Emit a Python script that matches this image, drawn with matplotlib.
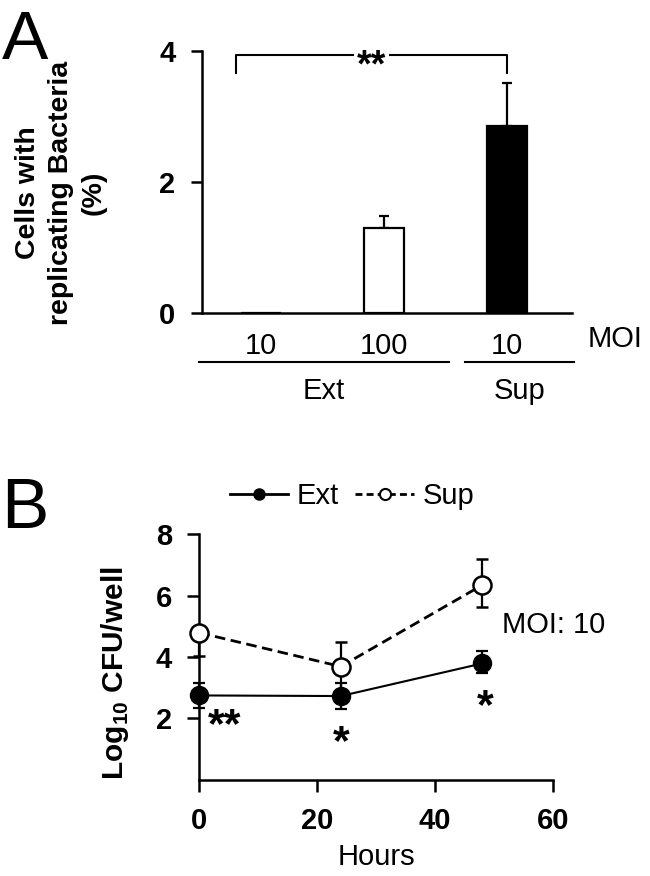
import numpy as np
import matplotlib
matplotlib.use("Agg")
import matplotlib.pyplot as plt
from matplotlib.lines import Line2D

plt.rcParams["font.family"] = ["Liberation Sans", "DejaVu Sans"]
plt.rcParams["mathtext.fontset"] = "custom"
plt.rcParams["mathtext.rm"] = "Liberation Sans:bold"

# ---- panel A data ----
moi_labels = ["10", "100", "10"]
group_names = ["Ext", "Sup"]
pct_mean = [0.0, 1.30, 2.85]
pct_err = [0.0, 0.17, 0.66]
bar_colors = ["white", "white", "black"]

# ---- panel B data ----
hours = [0, 24, 48]
ext_mean = [2.75, 2.73, 3.79]
ext_err_lo = [0.42, 0.41, 0.30]
ext_err_hi = [0.42, 0.41, 0.40]
sup_mean = [4.79, 3.69, 6.34]
sup_err_lo = [0.77, 0.79, 0.70]
sup_err_hi = [0.0, 0.79, 0.84]
ext_stars = ["**", "*", "*"]

fig = plt.figure(figsize=(6.5, 8.76), dpi=100)

TICK_FS = 21
LW_AX = 1.8


def style_axes(ax):
    for s in ["top", "right"]:
        ax.spines[s].set_visible(False)
    for s in ["left", "bottom"]:
        ax.spines[s].set_linewidth(LW_AX)


# ================= A =================
axA = fig.add_axes([0.3103, 0.643, 0.5697, 0.2991])
style_axes(axA)
x = np.arange(len(pct_mean))
axA.bar(x, pct_mean, width=0.325, color=bar_colors, edgecolor="black",
        linewidth=1.6, zorder=3)
m = np.array(pct_err) > 0
axA.errorbar(x[m], np.array(pct_mean)[m],
             yerr=[np.zeros(m.sum()), np.array(pct_err)[m]],
             fmt="none", ecolor="black", elinewidth=1.6, capsize=3.3,
             capthick=1.6, zorder=2)
axA.set_xlim(-0.48, 2.53)
axA.set_ylim(0, 4)
axA.set_yticks([0, 2, 4])
axA.tick_params(axis="y", length=8, width=LW_AX, pad=11, labelsize=TICK_FS)
for t in axA.get_yticklabels():
    t.set_fontweight("bold")
axA.set_xticks(x)
axA.set_xticklabels(moi_labels)
axA.tick_params(axis="x", length=0, pad=14, labelsize=TICK_FS)

# significance bracket between first and last group
axA.plot([-0.2, -0.2, 2.0, 2.0], [3.66, 3.93, 3.93, 3.66], color="black",
         lw=1.5, clip_on=False)
axA.annotate("**", xy=(0.9, 3.93), xytext=(0, -15), textcoords="offset points",
             ha="center", va="baseline", fontsize=27, fontweight="bold",
             bbox=dict(fc="white", ec="none", pad=2))

# group underlines (Ext / Sup)
trA = axA.get_xaxis_transform()
spans = [(-0.5, 1.53), (1.66, 2.55)]
for name, (x0, x1) in zip(group_names, spans):
    axA.plot([x0, x1], [-0.188, -0.188], color="black", lw=1.5,
             transform=trA, clip_on=False)
    axA.text((x0 + x1) / 2, -0.30, name, transform=trA, ha="center",
             va="center", fontsize=TICK_FS)
axA.text(2.66, -0.102, "MOI", transform=trA, ha="left", va="center",
         fontsize=TICK_FS)

fig.text(61 / 650, 1 - 193 / 876, "Cells with\nreplicating Bacteria\n(%)",
         rotation=90, ha="center", va="center", multialignment="center",
         fontsize=20.5, fontweight="bold", linespacing=1.35)
fig.text(2 / 650, 1 - 59 / 876, "A", fontsize=50, va="baseline", ha="left")

# ================= B =================
axB = fig.add_axes([0.3066, 0.1096, 0.5442, 0.2808])
style_axes(axB)

sup = axB.errorbar(hours, sup_mean, yerr=[sup_err_lo, sup_err_hi], fmt="o",
                   ls="--", dashes=(3.8, 2), color="black", lw=2.0,
                   mfc="white", mec="black", mew=1.8, ms=13,
                   elinewidth=1.6, capsize=4.3, capthick=1.6, zorder=3)
ext = axB.errorbar(hours, ext_mean, yerr=[ext_err_lo, ext_err_hi], fmt="o",
                   ls="-", color="black", lw=1.5, mfc="black", mec="black",
                   ms=13, elinewidth=1.6, capsize=4.3, capthick=1.6, zorder=4)
for cont in (sup, ext):
    for a in cont.get_children():
        a.set_clip_on(False)

star_offsets = [(18.5, -30), (0, -42), (2, -39)]
for h, v, s, (dx, dy) in zip(hours, ext_mean, ext_stars, star_offsets):
    axB.annotate(s, xy=(h, v), xytext=(dx, dy), textcoords="offset points",
                 ha="center", va="baseline", fontsize=31, fontweight="bold")

axB.set_xlim(0, 60)
axB.set_ylim(0, 8)
axB.set_xticks([0, 20, 40, 60])
axB.set_yticks([2, 4, 6, 8])
axB.tick_params(length=8.5, width=LW_AX, pad=11, labelsize=TICK_FS)
for t in axB.get_xticklabels() + axB.get_yticklabels():
    t.set_fontweight("bold")
axB.set_xlabel("Hours", fontsize=TICK_FS, labelpad=6)
fig.text(115 / 650, 1 - 673 / 876, r"Log$_{\mathrm{10}}$ CFU/well",
         rotation=90, ha="center", va="center", fontsize=21.5,
         fontweight="bold")
axB.text(0.856, 0.63, "MOI: 10", transform=axB.transAxes, ha="left",
         va="center", fontsize=TICK_FS)

handles = [
    Line2D([], [], color="black", lw=2, marker="o", ms=8, mfc="black"),
    Line2D([], [], color="black", lw=2, ls="--", dashes=(2.5, 1.5),
           marker="o", ms=8, mfc="white", mew=1.5),
]
axB.legend(handles, ["Ext", "Sup"], ncol=2, loc="center",
           bbox_to_anchor=(0.432, 1.154), frameon=False, fontsize=TICK_FS,
           handlelength=2.0, handletextpad=0.3, columnspacing=0.55,
           borderaxespad=0, borderpad=0)

fig.text(1 / 650, 1 - 528 / 876, "B", fontsize=51, va="baseline", ha="left")

fig.savefig("out.png", dpi=100)
